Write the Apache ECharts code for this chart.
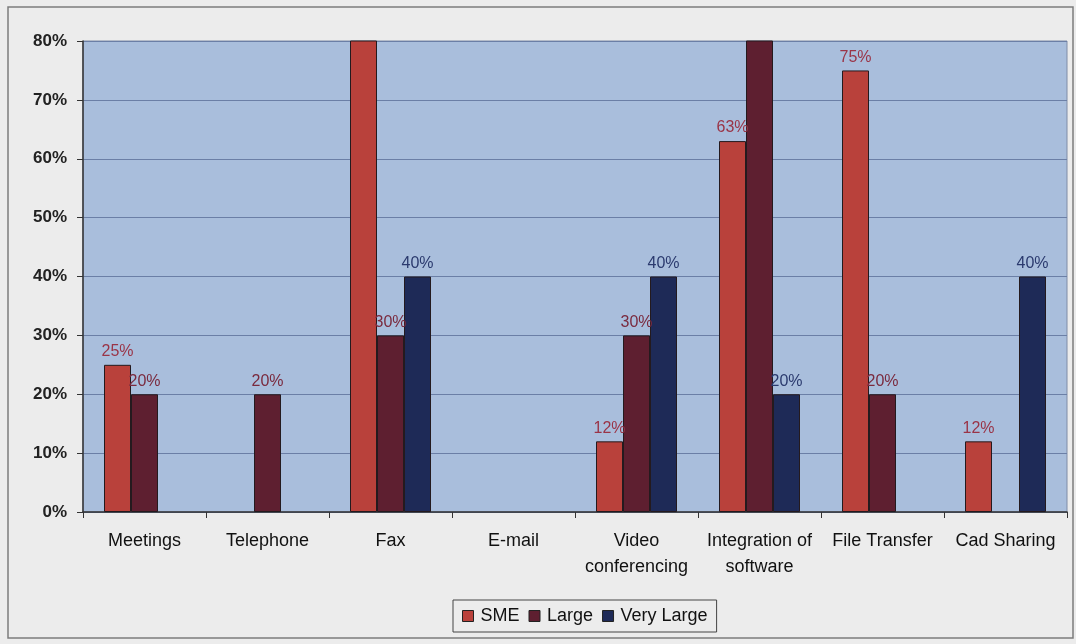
<!DOCTYPE html>
<html>
<head>
<meta charset="utf-8">
<script src="https://cdn.jsdelivr.net/npm/echarts@6/dist/echarts.min.js"></script>
<style>
  html, body { margin: 0; padding: 0; background: #ececec; }
  #chart { width: 1076px; height: 644px; }
</style>
</head>
<body>
<div id="chart"></div>
<script>
// Usage of communication tools by company size (share of respondents, %)
const categories = ['Meetings', 'Telephone', 'Fax', 'E-mail', 'Video\nconferencing',
                    'Integration of\nsoftware', 'File Transfer', 'Cad Sharing'];
const smeValues = [25, null, 88, null, 12, 63, 75, 12];
const largeValues = [20, 20, 30, null, 30, 88, 20, null];
const veryLargeValues = [null, null, 40, null, 40, 20, null, 40];
const yTicks = [0, 10, 20, 30, 40, 50, 60, 70, 80];

const AXIS_MAX = 80;
const font = 'Liberation Sans, Arial, sans-serif';

function labelFor(color) {
  return {
    show: true,
    position: 'top',
    distance: 5,
    color: color,
    fontFamily: font,
    fontSize: 16,
    formatter: p => (p.value == null || p.value > AXIS_MAX) ? '' : p.value + '%'
  };
}

function barSeries(name, data, fill, labelColor) {
  return {
    name: name,
    type: 'bar',
    data: data,
    barWidth: 27,
    barGap: '0%',
    clip: true,
    itemStyle: { color: fill, borderColor: '#241a1e', borderWidth: 1 },
    label: labelFor(labelColor)
  };
}

const chart = echarts.init(document.getElementById('chart'));
chart.setOption({
  animation: false,
  backgroundColor: '#ececec',
  graphic: [{
    type: 'rect',
    shape: { x: 8, y: 7, width: 1065, height: 631 },
    style: { fill: 'none', stroke: '#7c7c7c', lineWidth: 1.5 },
    silent: true
  }],
  grid: {
    left: 83, top: 41, right: 9, bottom: 132,
    show: true,
    backgroundColor: '#a9bedc',
    borderColor: '#7f8ca6',
    borderWidth: 1
  },
  legend: {
    bottom: 12,
    left: 453,
    itemWidth: 11,
    itemHeight: 11,
    itemGap: 9,
    icon: 'rect',
    padding: [7, 9],
    borderColor: '#444',
    borderWidth: 1,
    itemStyle: { borderColor: '#222', borderWidth: 1 },
    textStyle: { fontFamily: font, fontSize: 18, color: '#111', padding: [0, 0, 0, 2] },
    data: ['SME', 'Large', 'Very Large']
  },
  xAxis: {
    type: 'category',
    data: categories,
    axisLine: { lineStyle: { color: '#333', width: 1.5 } },
    axisTick: { show: true, alignWithLabel: false, length: 6, lineStyle: { color: '#333' } },
    axisLabel: {
      interval: 0,
      margin: 16,
      color: '#111',
      fontFamily: font,
      fontSize: 18,
      lineHeight: 26
    }
  },
  yAxis: {
    type: 'value',
    min: 0,
    max: AXIS_MAX,
    interval: 10,
    axisLine: { show: true, lineStyle: { color: '#333', width: 1.5 } },
    axisTick: { show: true, length: 6, lineStyle: { color: '#333' } },
    splitLine: { lineStyle: { color: '#6b7fa6', width: 1 } },
    axisLabel: {
      margin: 16,
      color: '#222',
      fontFamily: font,
      fontSize: 17,
      fontWeight: 'bold',
      formatter: v => (yTicks.includes(v) ? v + '%' : '')
    }
  },
  series: [
    barSeries('SME', smeValues, '#b9413b', '#9a3447'),
    barSeries('Large', largeValues, '#5e1f30', '#7a2a3e'),
    barSeries('Very Large', veryLargeValues, '#1e2a57', '#2b3a6e')
  ]
});
</script>
</body>
</html>
